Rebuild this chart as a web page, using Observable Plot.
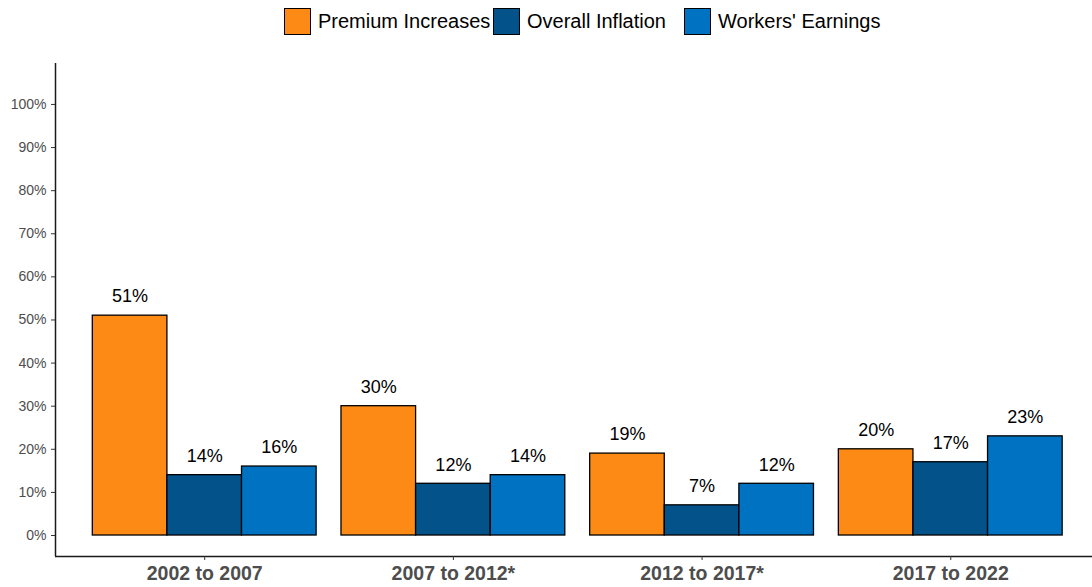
<!DOCTYPE html>
<html>
<head>
<meta charset="utf-8">
<script src="https://cdn.jsdelivr.net/npm/d3@7"></script>
<script src="https://cdn.jsdelivr.net/npm/@observablehq/plot@0.6"></script>
<style>
  body { margin: 0; background: white; font-family: "Liberation Sans", Arial, sans-serif; }
  #legend { height: 43px; display: flex; align-items: center; padding-left: 284px; box-sizing: border-box; }
  .item { display: flex; align-items: center; font-size: 20px; color: #000; white-space: nowrap; }
  .sw { width: 25px; height: 25px; border: 1px solid #000; margin-right: 7px; }
</style>
</head>
<body>
<div id="legend"></div>
<div id="chart"></div>
<script>
const periods = ["2002 to 2007", "2007 to 2012*", "2012 to 2017*", "2017 to 2022"];
const series = ["Premium Increases", "Overall Inflation", "Workers' Earnings"];
const premiumIncreases = [51, 30, 19, 20];
const overallInflation = [14, 12, 7, 17];
const workersEarnings = [16, 14, 12, 23];
const colors = ["#FD8A14", "#03528A", "#0072C2"];
const yTicks = [0, 10, 20, 30, 40, 50, 60, 70, 80, 90, 100];

const valuesBySeries = [premiumIncreases, overallInflation, workersEarnings];
const data = [];
periods.forEach((p, i) => {
  series.forEach((s, j) => {
    data.push({period: p, i, series: s, j, value: valuesBySeries[j][i]});
  });
});

const dodge = 0.9, w = dodge / series.length;
const x1 = d => d.i - dodge / 2 + d.j * w;
const x2 = d => d.i - dodge / 2 + (d.j + 1) * w;
const xc = d => d.i - dodge / 2 + (d.j + 0.5) * w;

const xDomain = [-0.6, periods.length - 1 + 0.57];
const yDomain = [-4.87, 109.5];

// legend
const legend = document.getElementById("legend");
const itemWidths = [209, 191, null];
series.forEach((s, j) => {
  const it = document.createElement("div");
  it.className = "item";
  if (itemWidths[j]) it.style.width = itemWidths[j] + "px";
  const sw = document.createElement("div");
  sw.className = "sw";
  sw.style.background = colors[j];
  const t = document.createElement("span");
  t.textContent = s;
  it.appendChild(sw); it.appendChild(t);
  legend.appendChild(it);
});

const chart = Plot.plot({
  width: 1092,
  height: 544,
  marginLeft: 55,
  marginRight: 0,
  marginTop: 20,
  marginBottom: 31,
  style: {fontFamily: "'Liberation Sans', Arial, sans-serif", background: "white"},
  x: {domain: xDomain},
  y: {domain: yDomain},
  color: {domain: series, range: colors},
  marks: [
    Plot.rect(data, {x1, x2, y1: 0, y2: "value", fill: "series", stroke: "#000", strokeWidth: 1.3}),
    Plot.text(data, {x: xc, y: "value", text: d => d.value + "%", dy: -19, fontSize: 18, fill: "#000"}),
    Plot.ruleX([xDomain[0]], {stroke: "#1a1a1a", strokeWidth: 1.5}),
    Plot.ruleY([yDomain[0]], {stroke: "#1a1a1a", strokeWidth: 1.5}),
    Plot.axisY({ticks: yTicks, tickFormat: d => d + "%", tickSize: 4, tickPadding: 5, fontSize: 14, fill: "#4d4d4d", stroke: "#333", label: null}),
    Plot.axisX({ticks: periods.map((p, i) => i), tickFormat: i => periods[i], tickSize: 4, tickPadding: 6, fontSize: 19.5, fontWeight: "bold", fill: "#4d4d4d", stroke: "#333", label: null})
  ]
});
document.getElementById("chart").appendChild(chart);
</script>
</body>
</html>
